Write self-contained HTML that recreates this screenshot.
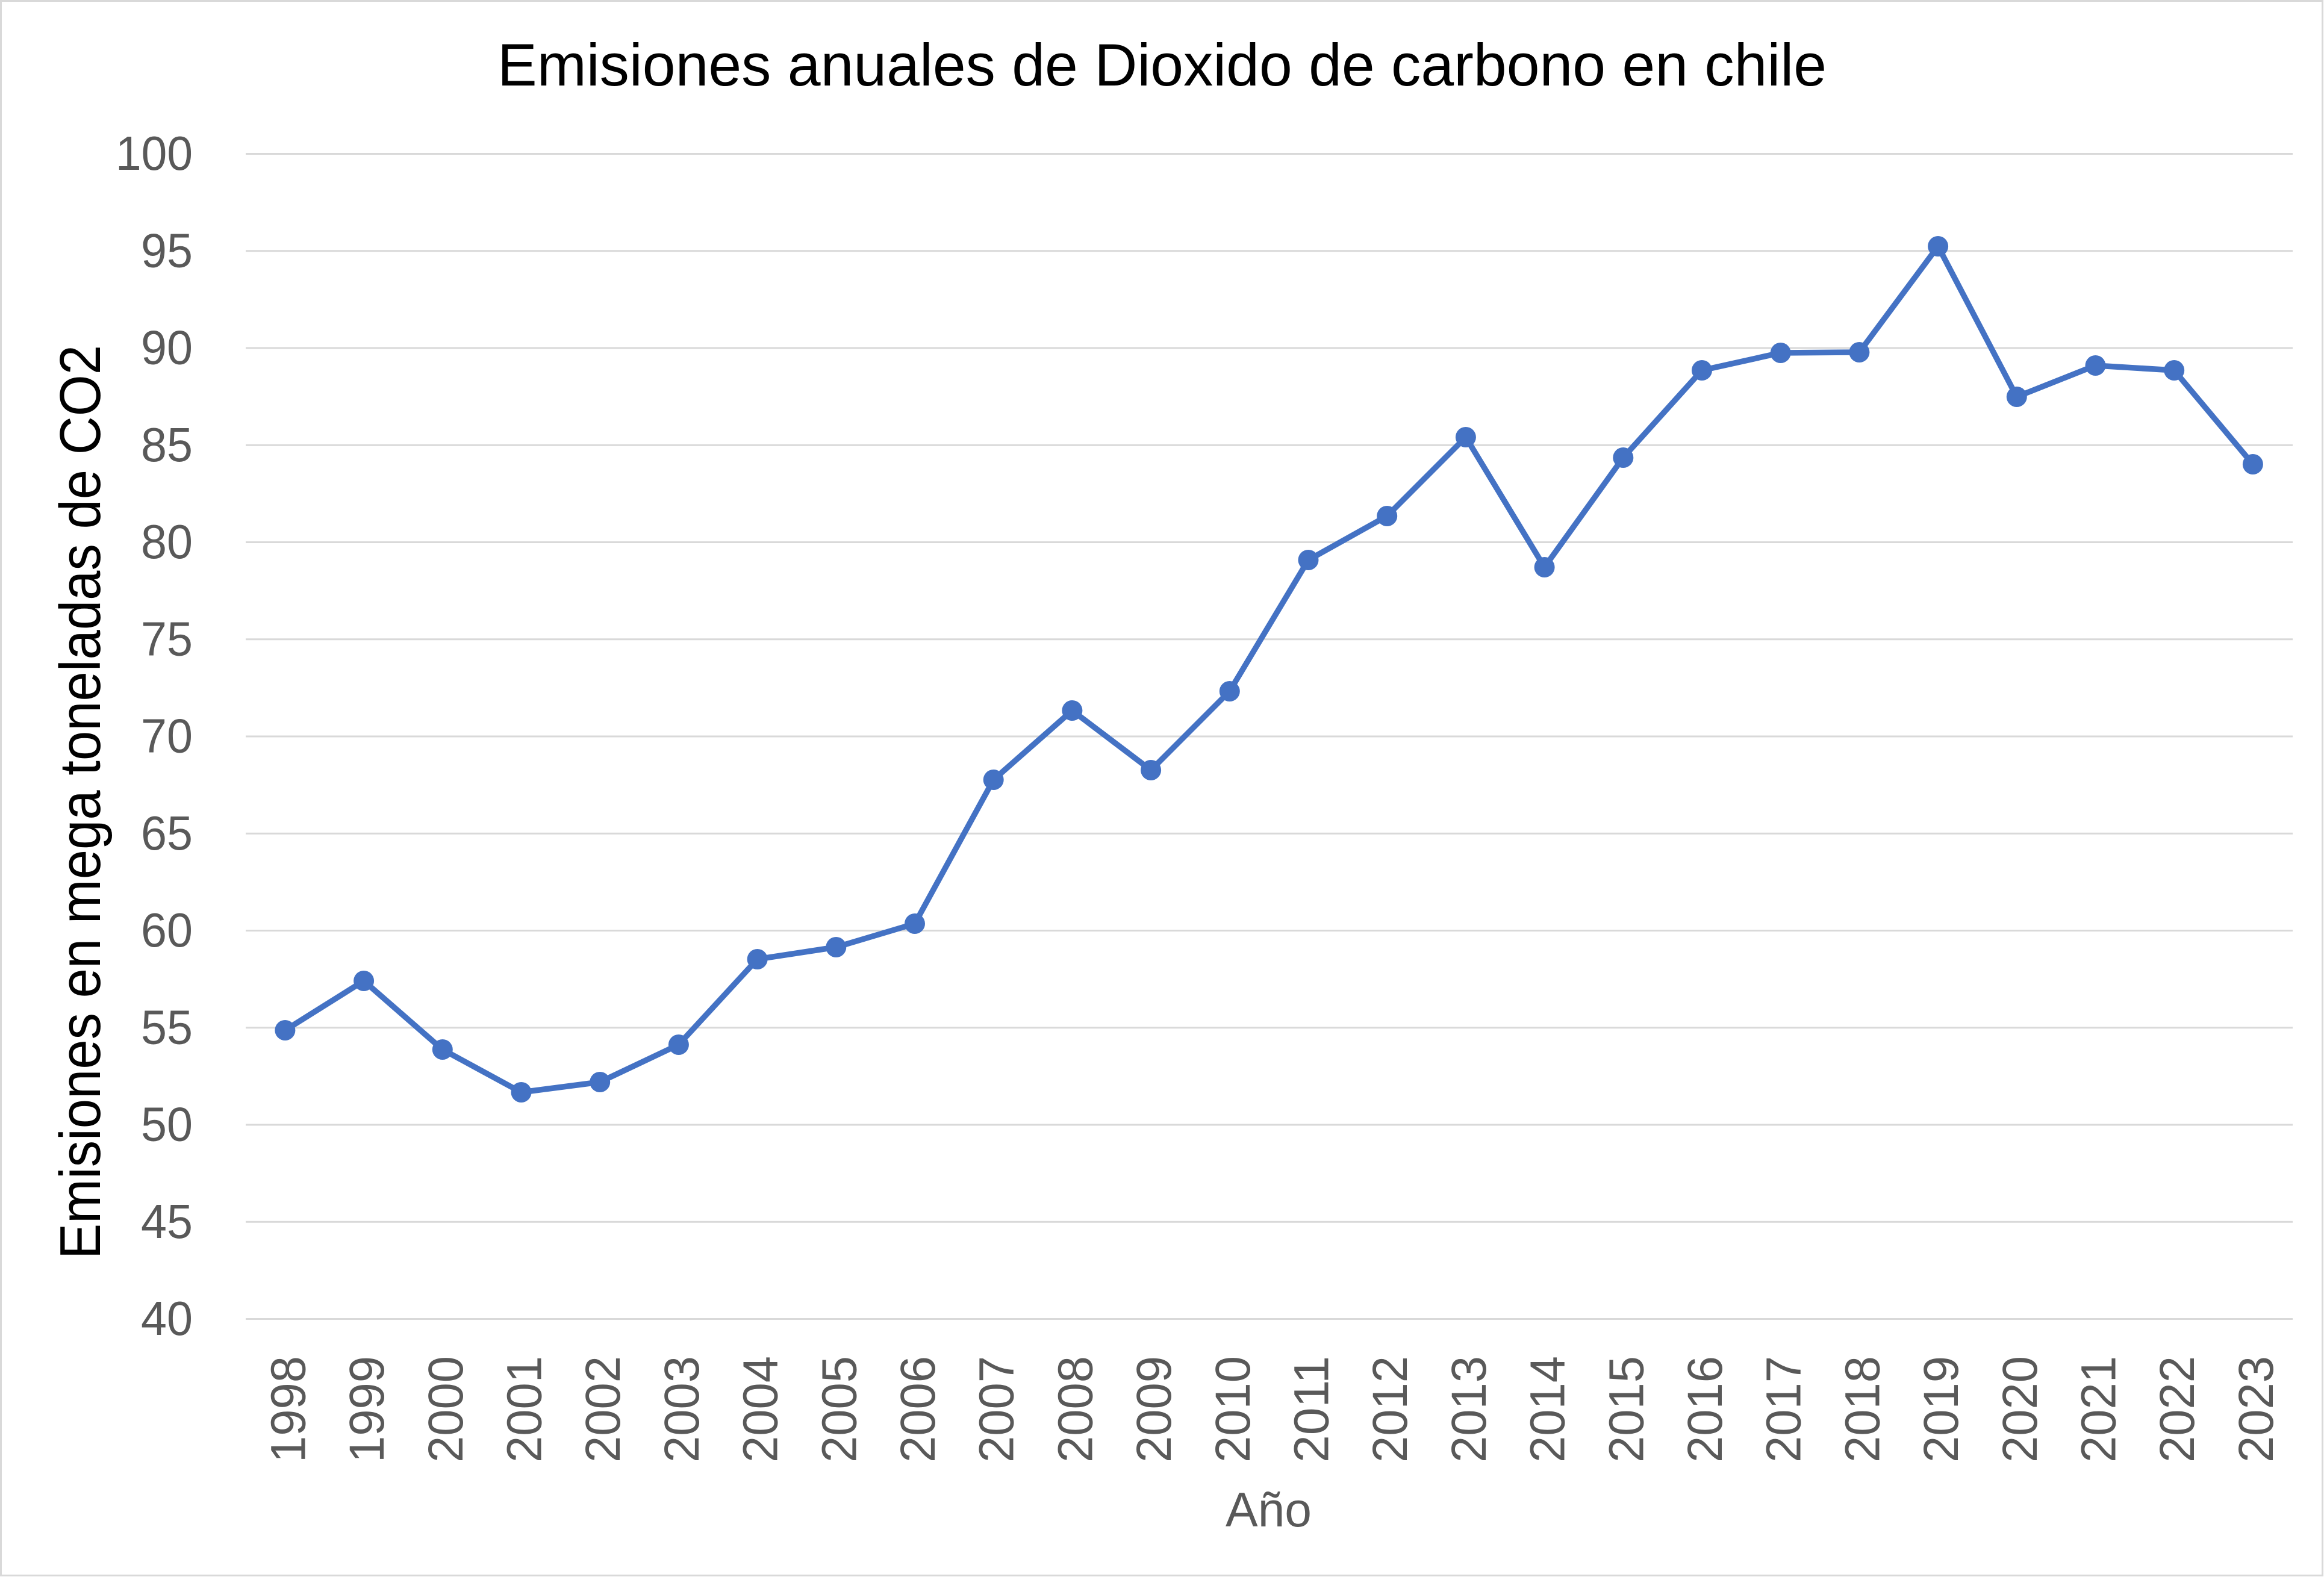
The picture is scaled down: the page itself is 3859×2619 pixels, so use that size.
<!DOCTYPE html>
<html>
<head>
<meta charset="utf-8">
<style>
  html, body { margin: 0; padding: 0; background: #ffffff; }
  svg { display: block; }
</style>
</head>
<body>
<svg xmlns="http://www.w3.org/2000/svg" width="3859" height="2619" viewBox="0 0 3859 2619">
  <rect x="0" y="0" width="3859" height="2619" fill="#ffffff"/>
  <rect x="1.5" y="1.5" width="3855" height="2615" fill="none" stroke="#d9d9d9" stroke-width="3"/>

  <!-- Title -->
  <text x="826" y="142" font-family="Liberation Sans, sans-serif" font-size="99" fill="#000000" textLength="2207" lengthAdjust="spacingAndGlyphs">Emisiones anuales de Dioxido de carbono en chile</text>

  <!-- Gridlines -->
  <g stroke="#d9d9d9" stroke-width="3">
    <line x1="408" y1="255.5" x2="3807" y2="255.5"/>
    <line x1="408" y1="416.75" x2="3807" y2="416.75"/>
    <line x1="408" y1="578" x2="3807" y2="578"/>
    <line x1="408" y1="739.25" x2="3807" y2="739.25"/>
    <line x1="408" y1="900.5" x2="3807" y2="900.5"/>
    <line x1="408" y1="1061.75" x2="3807" y2="1061.75"/>
    <line x1="408" y1="1223" x2="3807" y2="1223"/>
    <line x1="408" y1="1384.25" x2="3807" y2="1384.25"/>
    <line x1="408" y1="1545.5" x2="3807" y2="1545.5"/>
    <line x1="408" y1="1706.75" x2="3807" y2="1706.75"/>
    <line x1="408" y1="1868" x2="3807" y2="1868"/>
    <line x1="408" y1="2029.25" x2="3807" y2="2029.25"/>
    <line x1="408" y1="2190.5" x2="3807" y2="2190.5"/>
  </g>

  <!-- Y tick labels -->
  <g font-family="Liberation Sans, sans-serif" font-size="80" fill="#595959" text-anchor="end">
    <text x="320" y="282" textLength="128" lengthAdjust="spacingAndGlyphs">100</text>
    <text x="320" y="443.25" textLength="86" lengthAdjust="spacingAndGlyphs">95</text>
    <text x="320" y="604.5" textLength="86" lengthAdjust="spacingAndGlyphs">90</text>
    <text x="320" y="765.75" textLength="86" lengthAdjust="spacingAndGlyphs">85</text>
    <text x="320" y="927" textLength="86" lengthAdjust="spacingAndGlyphs">80</text>
    <text x="320" y="1088.25" textLength="86" lengthAdjust="spacingAndGlyphs">75</text>
    <text x="320" y="1249.5" textLength="86" lengthAdjust="spacingAndGlyphs">70</text>
    <text x="320" y="1410.75" textLength="86" lengthAdjust="spacingAndGlyphs">65</text>
    <text x="320" y="1572" textLength="86" lengthAdjust="spacingAndGlyphs">60</text>
    <text x="320" y="1733.25" textLength="86" lengthAdjust="spacingAndGlyphs">55</text>
    <text x="320" y="1894.5" textLength="86" lengthAdjust="spacingAndGlyphs">50</text>
    <text x="320" y="2055.75" textLength="86" lengthAdjust="spacingAndGlyphs">45</text>
    <text x="320" y="2217" textLength="86" lengthAdjust="spacingAndGlyphs">40</text>
  </g>

  <!-- Y axis title -->
  <text transform="translate(166,2091) rotate(-90)" x="0" y="0" font-family="Liberation Sans, sans-serif" font-size="96" fill="#000000" textLength="1518" lengthAdjust="spacingAndGlyphs">Emisiones en mega toneladas de CO2</text>

  <!-- X tick labels (rotated) -->
  <g font-family="Liberation Sans, sans-serif" font-size="82" fill="#595959">
    <text transform="translate(506.4,2429) rotate(-90)" textLength="177" lengthAdjust="spacingAndGlyphs">1998</text>
    <text transform="translate(637.1,2429) rotate(-90)" textLength="177" lengthAdjust="spacingAndGlyphs">1999</text>
    <text transform="translate(767.8,2429) rotate(-90)" textLength="177" lengthAdjust="spacingAndGlyphs">2000</text>
    <text transform="translate(898.5,2429) rotate(-90)" textLength="177" lengthAdjust="spacingAndGlyphs">2001</text>
    <text transform="translate(1029.2,2429) rotate(-90)" textLength="177" lengthAdjust="spacingAndGlyphs">2002</text>
    <text transform="translate(1159.9,2429) rotate(-90)" textLength="177" lengthAdjust="spacingAndGlyphs">2003</text>
    <text transform="translate(1290.6,2429) rotate(-90)" textLength="177" lengthAdjust="spacingAndGlyphs">2004</text>
    <text transform="translate(1421.3,2429) rotate(-90)" textLength="177" lengthAdjust="spacingAndGlyphs">2005</text>
    <text transform="translate(1552,2429) rotate(-90)" textLength="177" lengthAdjust="spacingAndGlyphs">2006</text>
    <text transform="translate(1682.7,2429) rotate(-90)" textLength="177" lengthAdjust="spacingAndGlyphs">2007</text>
    <text transform="translate(1813.4,2429) rotate(-90)" textLength="177" lengthAdjust="spacingAndGlyphs">2008</text>
    <text transform="translate(1944.1,2429) rotate(-90)" textLength="177" lengthAdjust="spacingAndGlyphs">2009</text>
    <text transform="translate(2074.8,2429) rotate(-90)" textLength="177" lengthAdjust="spacingAndGlyphs">2010</text>
    <text transform="translate(2205.5,2429) rotate(-90)" textLength="177" lengthAdjust="spacingAndGlyphs">2011</text>
    <text transform="translate(2336.2,2429) rotate(-90)" textLength="177" lengthAdjust="spacingAndGlyphs">2012</text>
    <text transform="translate(2466.9,2429) rotate(-90)" textLength="177" lengthAdjust="spacingAndGlyphs">2013</text>
    <text transform="translate(2597.6,2429) rotate(-90)" textLength="177" lengthAdjust="spacingAndGlyphs">2014</text>
    <text transform="translate(2728.3,2429) rotate(-90)" textLength="177" lengthAdjust="spacingAndGlyphs">2015</text>
    <text transform="translate(2859,2429) rotate(-90)" textLength="177" lengthAdjust="spacingAndGlyphs">2016</text>
    <text transform="translate(2989.7,2429) rotate(-90)" textLength="177" lengthAdjust="spacingAndGlyphs">2017</text>
    <text transform="translate(3120.4,2429) rotate(-90)" textLength="177" lengthAdjust="spacingAndGlyphs">2018</text>
    <text transform="translate(3251.1,2429) rotate(-90)" textLength="177" lengthAdjust="spacingAndGlyphs">2019</text>
    <text transform="translate(3381.8,2429) rotate(-90)" textLength="177" lengthAdjust="spacingAndGlyphs">2020</text>
    <text transform="translate(3512.5,2429) rotate(-90)" textLength="177" lengthAdjust="spacingAndGlyphs">2021</text>
    <text transform="translate(3643.2,2429) rotate(-90)" textLength="177" lengthAdjust="spacingAndGlyphs">2022</text>
    <text transform="translate(3773.9,2429) rotate(-90)" textLength="177" lengthAdjust="spacingAndGlyphs">2023</text>
  </g>

  <!-- X axis title -->
  <text x="2035" y="2535" font-family="Liberation Sans, sans-serif" font-size="81" fill="#595959" textLength="143" lengthAdjust="spacingAndGlyphs">Año</text>

  <!-- Series line -->
  <polyline fill="none" stroke="#4472c4" stroke-width="9.5" stroke-linejoin="round" stroke-linecap="round"
    points="473.4,1711 604.1,1629 734.8,1743 865.5,1814 996.2,1797 1126.9,1735 1257.6,1593 1388.3,1573 1519,1534 1649.7,1295 1780.4,1180 1911.1,1279 2041.8,1148 2172.5,930 2303.2,857 2433.9,726 2564.6,942 2695.3,760 2826,615 2956.7,586 3087.4,585 3218.1,409 3348.8,659 3479.5,607 3610.2,615 3740.9,771"/>

  <!-- Markers -->
  <g fill="#4472c4">
    <circle cx="473.4" cy="1711" r="17"/>
    <circle cx="604.1" cy="1629" r="17"/>
    <circle cx="734.8" cy="1743" r="17"/>
    <circle cx="865.5" cy="1814" r="17"/>
    <circle cx="996.2" cy="1797" r="17"/>
    <circle cx="1126.9" cy="1735" r="17"/>
    <circle cx="1257.6" cy="1593" r="17"/>
    <circle cx="1388.3" cy="1573" r="17"/>
    <circle cx="1519" cy="1534" r="17"/>
    <circle cx="1649.7" cy="1295" r="17"/>
    <circle cx="1780.4" cy="1180" r="17"/>
    <circle cx="1911.1" cy="1279" r="17"/>
    <circle cx="2041.8" cy="1148" r="17"/>
    <circle cx="2172.5" cy="930" r="17"/>
    <circle cx="2303.2" cy="857" r="17"/>
    <circle cx="2433.9" cy="726" r="17"/>
    <circle cx="2564.6" cy="942" r="17"/>
    <circle cx="2695.3" cy="760" r="17"/>
    <circle cx="2826" cy="615" r="17"/>
    <circle cx="2956.7" cy="586" r="17"/>
    <circle cx="3087.4" cy="585" r="17"/>
    <circle cx="3218.1" cy="409" r="17"/>
    <circle cx="3348.8" cy="659" r="17"/>
    <circle cx="3479.5" cy="607" r="17"/>
    <circle cx="3610.2" cy="615" r="17"/>
    <circle cx="3740.9" cy="771" r="17"/>
  </g>
</svg>
</body>
</html>
